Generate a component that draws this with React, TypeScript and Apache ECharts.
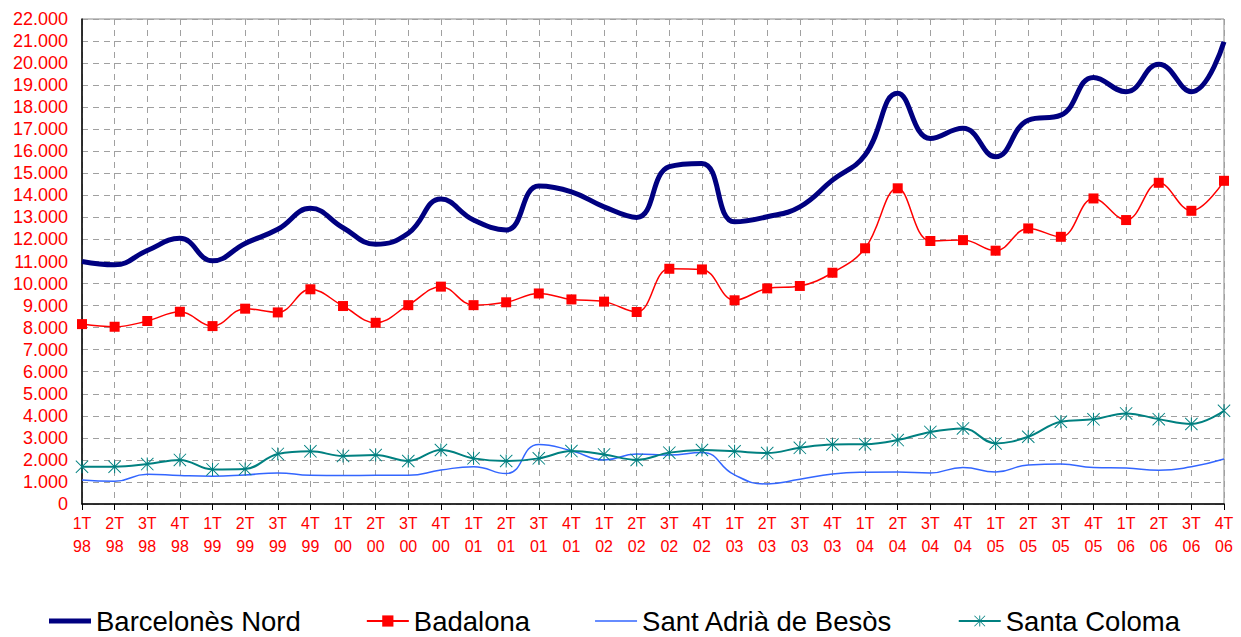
import React, { useEffect, useRef } from "react";
import * as echarts from "echarts";

const categories = [
  "1T\n98", "2T\n98", "3T\n98", "4T\n98",
  "1T\n99", "2T\n99", "3T\n99", "4T\n99",
  "1T\n00", "2T\n00", "3T\n00", "4T\n00",
  "1T\n01", "2T\n01", "3T\n01", "4T\n01",
  "1T\n02", "2T\n02", "3T\n02", "4T\n02",
  "1T\n03", "2T\n03", "3T\n03", "4T\n03",
  "1T\n04", "2T\n04", "3T\n04", "4T\n04",
  "1T\n05", "2T\n05", "3T\n05", "4T\n05",
  "1T\n06", "2T\n06", "3T\n06", "4T\n06",
];

const barcelonesNord = [
  11000, 10850, 11500, 12050, 11030, 11820, 12460, 13410, 12530, 11780, 12280, 13830,
  12880, 12430, 14420, 14160, 13480, 13000, 15300, 15450, 12800, 13030, 13480, 14690,
  15830, 18630, 16580, 17040, 15750, 17410, 17640, 19350, 18700, 19950, 18700, 20970,
];

const badalona = [
  8160, 8040, 8300, 8720, 8070, 8860, 8690, 9740, 8980, 8220, 9020, 9860,
  9020, 9150, 9550, 9280, 9180, 8710, 10670, 10640, 9240, 9780, 9890, 10490,
  11600, 14320, 11930, 11970, 11490, 12500, 12120, 13860, 12880, 14570, 13300, 14660,
];

const santAdria = [
  1090, 1030, 1350, 1290, 1260, 1320, 1410, 1300, 1290, 1300, 1300, 1540,
  1690, 1380, 2700, 2420, 2000, 2270, 2220, 2340, 1320, 910, 1120, 1360,
  1440, 1450, 1410, 1660, 1450, 1770, 1810, 1660, 1630, 1530, 1690, 2040,
];

const santaColoma = [
  1690, 1690, 1810, 2000, 1570, 1590, 2270, 2390, 2180, 2220, 1950, 2450,
  2070, 1950, 2070, 2400, 2250, 2000, 2330, 2450, 2390, 2310, 2550, 2700,
  2710, 2900, 3270, 3430, 2750, 3050, 3730, 3840, 4110, 3850, 3630, 4230,
];

const seriesNames = ["Barcelonès Nord", "Badalona", "Sant Adrià de Besòs", "Santa Coloma"];

const asterisk =
  "path://M46,0 L54,0 L54,100 L46,100 Z M0,5 L5,0 L100,95 L95,100 Z M95,0 L100,5 L5,100 L0,95 Z";

const thickLineIcon = "path://M0,0 L84,0 L84,10 L0,10 Z";
const thinLineIcon = "path://M0,0 L80,0 L80,3 L0,3 Z";

const FONT = "'Liberation Sans', Arial, Helvetica, sans-serif";

function fmt(v: number): string {
  const s = String(Math.round(v));
  return s.replace(/\B(?=(\d{3})+(?!\d))/g, ".");
}

export default function App() {
  const ref = useRef<HTMLDivElement>(null);

  useEffect(() => {
    document.body.style.margin = "0";
    if (!ref.current) return;
    const chart = echarts.init(ref.current, null, { renderer: "svg" });
    chart.setOption({
      animation: false,
      backgroundColor: "#ffffff",
      textStyle: { fontFamily: FONT },
      grid: {
        left: 82,
        right: 17,
        top: 19,
        bottom: 133,
        show: true,
        borderColor: "#888888",
        borderWidth: 1,
        backgroundColor: "transparent",
      },
      legend: {
        left: 49,
        top: 607,
        padding: 0,
        itemGap: 65,
        itemWidth: 42,
        itemHeight: 14,
        symbolKeepAspect: true,
        textStyle: { fontSize: 27.5, color: "#000000", fontFamily: FONT, lineHeight: 26 },
        data: [
          { name: seriesNames[0], icon: thickLineIcon, itemStyle: { color: "#000080" } },
          { name: seriesNames[1] },
          { name: seriesNames[2], icon: thinLineIcon, itemStyle: { color: "#3366ff" } },
          { name: seriesNames[3] },
        ],
      },
      xAxis: {
        type: "category",
        data: categories,
        boundaryGap: false,
        axisLine: { show: true, lineStyle: { color: "#000000", width: 1.5 } },
        axisTick: { show: true, length: 6, alignWithLabel: true, lineStyle: { color: "#000000" } },
        axisLabel: {
          color: "#ff0000",
          fontSize: 16,
          lineHeight: 23,
          margin: 8,
          interval: 0,
          fontFamily: FONT,
        },
        splitLine: {
          show: true,
          interval: 0,
          lineStyle: { color: "#a0a0a0", type: [6, 5], width: 1 },
        },
      },
      yAxis: {
        type: "value",
        min: 0,
        max: 22000,
        interval: 1000,
        axisLine: { show: true, lineStyle: { color: "#000000", width: 1.5 } },
        axisTick: { show: false },
        axisLabel: {
          color: "#ff0000",
          fontSize: 18,
          margin: 14,
          fontFamily: FONT,
          formatter: (v: number) => fmt(v),
        },
        splitLine: {
          show: true,
          lineStyle: { color: "#a0a0a0", type: [6, 5], width: 1 },
        },
      },
      series: [
        {
          name: seriesNames[0],
          type: "line",
          data: barcelonesNord,
          smooth: 0.45,
          symbol: "none",
          lineStyle: { color: "#000080", width: 5 },
          itemStyle: { color: "#000080" },
          z: 5,
        },
        {
          name: seriesNames[1],
          type: "line",
          data: badalona,
          smooth: 0.4,
          symbol: "rect",
          symbolSize: 10,
          lineStyle: { color: "#ff0000", width: 1.5 },
          itemStyle: { color: "#ff0000" },
          z: 4,
        },
        {
          name: seriesNames[2],
          type: "line",
          data: santAdria,
          smooth: 0.5,
          symbol: "none",
          lineStyle: { color: "#3366ff", width: 1.5 },
          itemStyle: { color: "#3366ff" },
          z: 3,
        },
        {
          name: seriesNames[3],
          type: "line",
          data: santaColoma,
          smooth: 0.4,
          symbol: asterisk,
          symbolSize: 13,
          lineStyle: { color: "#008080", width: 2 },
          itemStyle: { color: "#008080" },
          z: 4,
        },
      ],
    });
    return () => chart.dispose();
  }, []);

  return <div ref={ref} style={{ width: 1241, height: 637 }} />;
}
